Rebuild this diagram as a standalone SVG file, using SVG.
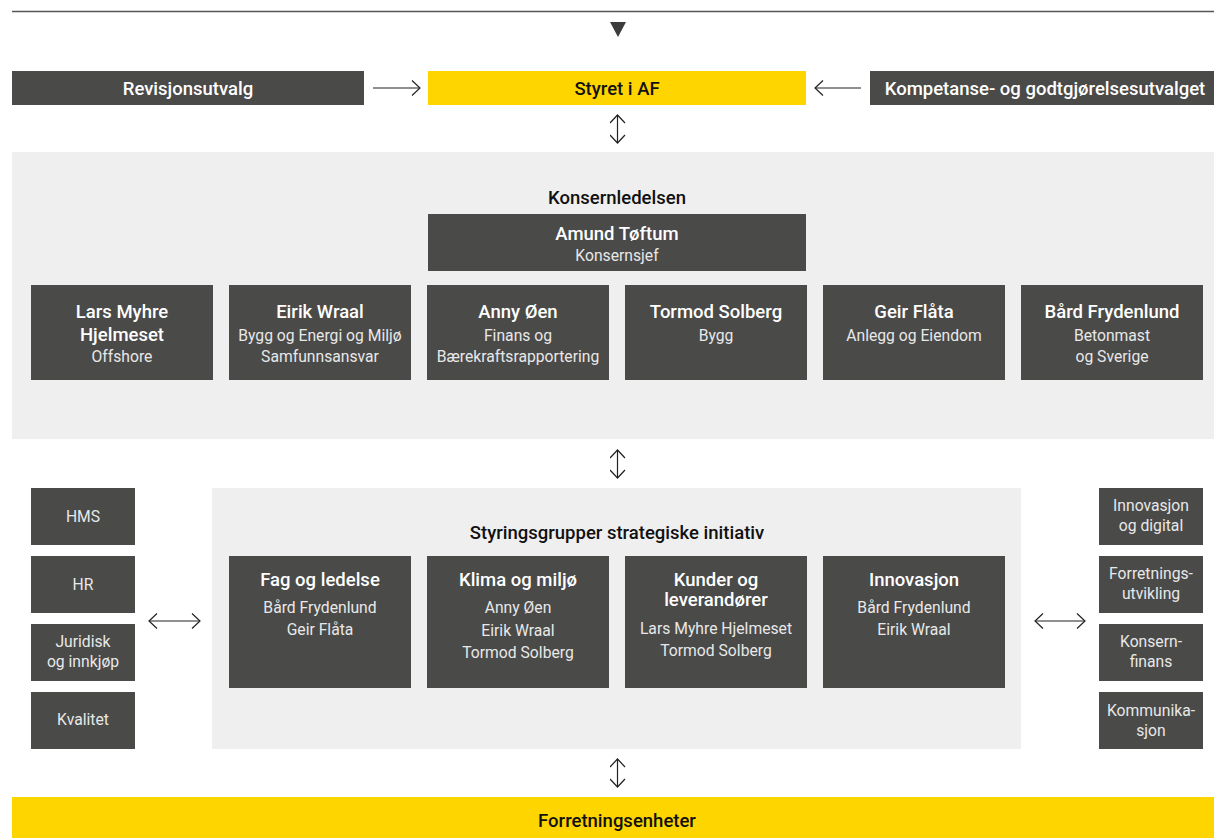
<svg xmlns="http://www.w3.org/2000/svg" width="1214" height="838" viewBox="0 0 1214 838">
<defs>
<style>
text{font-family:Roboto,"Liberation Sans",sans-serif;text-anchor:middle}
.dark{fill:#4a4a48}
.yel{fill:#ffd500}
.panel{fill:#efefef}
.t{font-size:18.5px;font-weight:500;fill:#ffffff}
.s{font-size:15.7px;fill:#e8e8e8}
.ss{font-size:15.7px;fill:#e8e8e8}
.h{font-size:18.5px;font-weight:500;fill:#111111}
.hw{font-size:18.5px;font-weight:500;fill:#ffffff}
.c{stroke:#222;stroke-width:1.2;fill:none}
</style>
<marker id="ah" viewBox="0 0 10 16" refX="9" refY="8" markerWidth="10" markerHeight="16" markerUnits="userSpaceOnUse" orient="auto-start-reverse">
<path d="M1,0.5 L9,8 L1,15.5" fill="none" stroke="#222" stroke-width="1.2"/>
</marker>
</defs>
<rect width="1214" height="838" fill="#ffffff"/>
<line x1="12" y1="11.5" x2="1214" y2="11.5" stroke="#555" stroke-width="1.3"/>
<path d="M610,22 L626,22 L618,37 Z" fill="#3c3c3c"/>

<g id="revisjonsutvalg"><rect class="dark" x="12" y="71" width="352" height="34"/><text class="hw" x="188" y="94.5">Revisjonsutvalg</text></g>
<g id="styret"><rect class="yel" x="428" y="71" width="378" height="34"/><text class="h" x="617" y="94.5">Styret i AF</text></g>
<g id="kompetanse"><rect class="dark" x="870" y="71" width="344" height="34"/><text class="hw" x="1045" y="94.5">Kompetanse- og godtgjørelsesutvalget</text></g>

<g id="konsernledelsen">
<rect class="panel" x="12" y="152" width="1202" height="287"/>
<text class="h" x="617" y="204">Konsernledelsen</text>
</g>
<g id="amund"><rect class="dark" x="428" y="214" width="378" height="57"/><text class="t" x="617" y="239.5">Amund Tøftum</text><text class="s" x="617" y="261">Konsernsjef</text></g>
<g id="lars"><rect class="dark" x="31" y="285" width="182" height="95"/><text class="t" x="122" y="317.5">Lars Myhre</text><text class="t" x="122" y="340.5">Hjelmeset</text><text class="s" x="122" y="362">Offshore</text></g>
<g id="eirik"><rect class="dark" x="229" y="285" width="182" height="95"/><text class="t" x="320" y="317.5">Eirik Wraal</text><text class="s" x="320" y="340.5">Bygg og Energi og Miljø</text><text class="s" x="320" y="362">Samfunnsansvar</text></g>
<g id="anny"><rect class="dark" x="427" y="285" width="182" height="95"/><text class="t" x="518" y="317.5">Anny Øen</text><text class="s" x="518" y="340.5">Finans og</text><text class="s" x="518" y="362">Bærekraftsrapportering</text></g>
<g id="tormod"><rect class="dark" x="625" y="285" width="182" height="95"/><text class="t" x="716" y="317.5">Tormod Solberg</text><text class="s" x="716" y="340.5">Bygg</text></g>
<g id="geir"><rect class="dark" x="823" y="285" width="182" height="95"/><text class="t" x="914" y="317.5">Geir Flåta</text><text class="s" x="914" y="340.5">Anlegg og Eiendom</text></g>
<g id="bard"><rect class="dark" x="1021" y="285" width="182" height="95"/><text class="t" x="1112" y="317.5">Bård Frydenlund</text><text class="s" x="1112" y="340.5">Betonmast</text><text class="s" x="1112" y="362">og Sverige</text></g>

<g id="styringsgrupper">
<rect class="panel" x="212" y="488" width="809" height="261"/>
<text class="h" x="617" y="539">Styringsgrupper strategiske initiativ</text>
</g>
<g id="fag"><rect class="dark" x="229" y="556" width="182" height="132"/><text class="t" x="320" y="585.5">Fag og ledelse</text><text class="s" x="320" y="613">Bård Frydenlund</text><text class="s" x="320" y="635">Geir Flåta</text></g>
<g id="klima"><rect class="dark" x="427" y="556" width="182" height="132"/><text class="t" x="518" y="585.5">Klima og miljø</text><text class="s" x="518" y="613">Anny Øen</text><text class="s" x="518" y="635.5">Eirik Wraal</text><text class="s" x="518" y="658">Tormod Solberg</text></g>
<g id="kunder"><rect class="dark" x="625" y="556" width="182" height="132"/><text class="t" x="716" y="585.5">Kunder og</text><text class="t" x="716" y="606">leverandører</text><text class="s" x="716" y="634">Lars Myhre Hjelmeset</text><text class="s" x="716" y="656">Tormod Solberg</text></g>
<g id="innovasjon"><rect class="dark" x="823" y="556" width="182" height="132"/><text class="t" x="914" y="585.5">Innovasjon</text><text class="s" x="914" y="613">Bård Frydenlund</text><text class="s" x="914" y="635">Eirik Wraal</text></g>

<g id="hms"><rect class="dark" x="31" y="488" width="104" height="57"/><text class="ss" x="83" y="522">HMS</text></g>
<g id="hr"><rect class="dark" x="31" y="556" width="104" height="57"/><text class="ss" x="83" y="590">HR</text></g>
<g id="juridisk"><rect class="dark" x="31" y="624" width="104" height="57"/><text class="ss" x="83" y="647">Juridisk</text><text class="ss" x="83" y="667">og innkjøp</text></g>
<g id="kvalitet"><rect class="dark" x="31" y="692" width="104" height="57"/><text class="ss" x="83" y="725">Kvalitet</text></g>

<g id="innovasjon-digital"><rect class="dark" x="1099" y="488" width="104" height="57"/><text class="ss" x="1151" y="511">Innovasjon</text><text class="ss" x="1151" y="531">og digital</text></g>
<g id="forretningsutvikling"><rect class="dark" x="1099" y="556" width="104" height="57"/><text class="ss" x="1151" y="579">Forretnings-</text><text class="ss" x="1151" y="599">utvikling</text></g>
<g id="konsernfinans"><rect class="dark" x="1099" y="624" width="104" height="57"/><text class="ss" x="1151" y="647">Konsern-</text><text class="ss" x="1151" y="667">finans</text></g>
<g id="kommunikasjon"><rect class="dark" x="1099" y="692" width="104" height="57"/><text class="ss" x="1151" y="716">Kommunika-</text><text class="ss" x="1151" y="736">sjon</text></g>

<g id="forretningsenheter"><rect class="yel" x="12" y="797" width="1202" height="41"/><text class="h" x="617" y="826.5">Forretningsenheter</text></g>

<g id="connectors">
<line class="c" x1="373" y1="88" x2="420" y2="88" marker-end="url(#ah)"/>
<line class="c" x1="861" y1="88" x2="815" y2="88" marker-end="url(#ah)"/>
<line class="c" x1="617.5" y1="115" x2="617.5" y2="143" marker-start="url(#ah)" marker-end="url(#ah)"/>
<line class="c" x1="617.5" y1="450" x2="617.5" y2="478" marker-start="url(#ah)" marker-end="url(#ah)"/>
<line class="c" x1="617.5" y1="759" x2="617.5" y2="787" marker-start="url(#ah)" marker-end="url(#ah)"/>
<line class="c" x1="149" y1="621" x2="200" y2="621" marker-start="url(#ah)" marker-end="url(#ah)"/>
<line class="c" x1="1035" y1="621" x2="1085" y2="621" marker-start="url(#ah)" marker-end="url(#ah)"/>
</g>
</svg>
